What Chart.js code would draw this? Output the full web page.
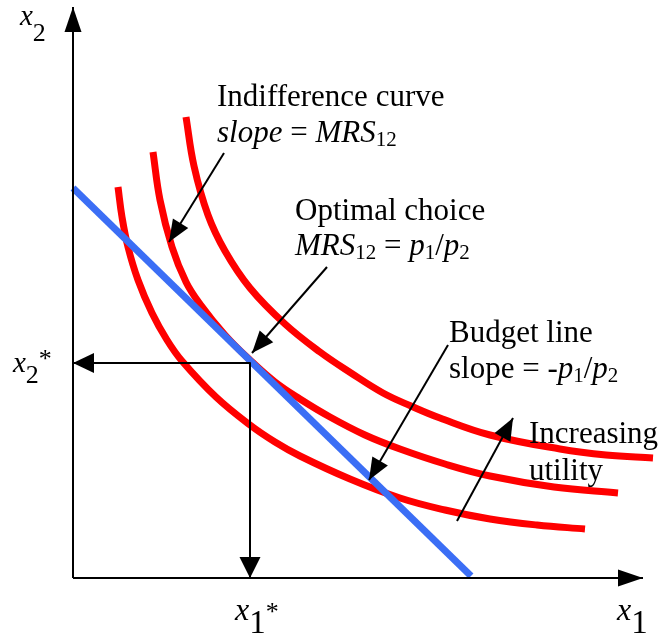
<!DOCTYPE html>
<html><head><meta charset="utf-8">
<script src="https://cdn.jsdelivr.net/npm/chart.js@4"></script>
<style>html,body{margin:0;padding:0;background:#fff;}#wrap{width:661px;height:637px;}</style>
</head><body><div id="wrap"><canvas id="c" width="661" height="637"></canvas></div>
<script>
// ---- data (economic units, origin at the axes' corner) ----
const budgetX = [0.00, 7.96];
const budgetY = [7.80, 0.04];

const lowCurveX = [0.90, 0.98, 1.10, 1.30, 1.58, 1.88, 2.18, 2.86, 3.54, 4.04, 4.54, 5.54, 6.54, 7.44, 8.34, 9.28, 10.24];
const lowCurveY = [7.82, 7.22, 6.62, 5.96, 5.30, 4.76, 4.34, 3.62, 3.06, 2.72, 2.44, 1.98, 1.60, 1.36, 1.18, 1.06, 0.98];

const midCurveX = [1.60, 1.74, 1.98, 2.26, 2.54, 3.04, 3.54, 4.04, 4.54, 5.14, 5.84, 6.54, 7.44, 8.34, 9.62, 10.90];
const midCurveY = [8.52, 7.56, 6.62, 5.92, 5.48, 4.86, 4.36, 3.92, 3.58, 3.22, 2.86, 2.58, 2.28, 2.04, 1.82, 1.70];

const highCurveX = [2.26, 2.42, 2.70, 3.04, 3.54, 4.24, 4.94, 5.56, 6.20, 6.76, 7.34, 8.34, 9.74, 10.66, 11.60];
const highCurveY = [9.22, 8.24, 7.26, 6.54, 5.80, 5.08, 4.52, 4.10, 3.70, 3.44, 3.20, 2.86, 2.58, 2.46, 2.40];

const optimumX1 = 3.54;   // x1*
const optimumX2 = 4.30;   // x2*

const axisX1Max = 11.40;
const axisX2Max = 11.42;

// annotation arrows: [fromX, fromY, toX, toY]
const arrowIndiff   = [3.02, 8.50, 1.92, 6.72];
const arrowOptimal  = [5.08, 6.22, 3.58, 4.50];
const arrowBudget   = [7.50, 4.66, 5.92, 1.96];
const arrowUtility  = [7.68, 1.14, 8.80, 3.20];

// ---- helpers ----
const pts = (xs, ys) => xs.map((x, i) => ({x, y: ys[i]}));
const seg = a => [{x: a[0], y: a[1]}, {x: a[2], y: a[3]}];

const RED = '#ff0000', BLUE = '#3b6ef5', BLACK = '#000000';

const curveStyle = {borderColor: RED, borderWidth: 7, pointRadius: 0, tension: 0.4, order: 2, fill: false};
const arrowStyle = (len, half) => ({borderColor: BLACK, backgroundColor: BLACK, borderWidth: 2, pointRadius: 0, order: 0, fill: false, arrowHead: {len, half}});

const datasets = [
  Object.assign({label: 'U1', data: pts(lowCurveX, lowCurveY)}, curveStyle),
  Object.assign({label: 'U2', data: pts(midCurveX, midCurveY)}, curveStyle),
  Object.assign({label: 'U3', data: pts(highCurveX, highCurveY)}, curveStyle),
  {label: 'Budget', data: pts(budgetX, budgetY), borderColor: BLUE, borderWidth: 7, pointRadius: 0, order: 1, fill: false},
  Object.assign({label: 'axisY', data: [{x: 0, y: 0}, {x: 0, y: axisX2Max}]}, arrowStyle(25, 8.5)),
  Object.assign({label: 'axisX', data: [{x: 0, y: 0}, {x: axisX1Max, y: 0}]}, arrowStyle(25, 8.5)),
  Object.assign({label: 'toX2', data: [{x: optimumX1, y: optimumX2}, {x: 0, y: optimumX2}]}, arrowStyle(21, 10)),
  Object.assign({label: 'toX1', data: [{x: optimumX1, y: optimumX2}, {x: optimumX1, y: 0}]}, arrowStyle(21, 10.5)),
  Object.assign({label: 'a1', data: seg(arrowIndiff)}, arrowStyle(22, 9)),
  Object.assign({label: 'a2', data: seg(arrowOptimal)}, arrowStyle(22, 9)),
  Object.assign({label: 'a3', data: seg(arrowBudget)}, arrowStyle(22, 9)),
  Object.assign({label: 'a4', data: seg(arrowUtility)}, arrowStyle(22, 9)),
];

// ---- text annotations (position in data units, segments of rich text) ----
const F = 'Liberation Serif';
const N = 31, S = 21;
const texts = [
  {x: 2.88, y: 9.44, segs: [{t: 'Indifference curve', s: N}]},
  {x: 2.88, y: 8.72, segs: [{t: 'slope', s: N, i: 1}, {t: ' = ', s: N}, {t: 'MRS', s: N, i: 1}, {t: '12', s: S, dy: 4}]},
  {x: 4.44, y: 7.16, segs: [{t: 'Optimal choice', s: N}]},
  {x: 4.44, y: 6.46, segs: [{t: 'MRS', s: N, i: 1}, {t: '12', s: S, dy: 4}, {t: ' = ', s: N}, {t: 'p', s: N, i: 1}, {t: '1', s: S, dy: 4}, {t: '/', s: N}, {t: 'p', s: N, i: 1}, {t: '2', s: S, dy: 4}]},
  {x: 7.52, y: 4.72, segs: [{t: 'Budget line', s: N}]},
  {x: 7.52, y: 4.00, segs: [{t: 'slope = -', s: N}, {t: 'p', s: N, i: 1}, {t: '1', s: S, dy: 4}, {t: '/', s: N}, {t: 'p', s: N, i: 1}, {t: '2', s: S, dy: 4}]},
  {x: 9.12, y: 2.70, segs: [{t: 'Increasing', s: N}]},
  {x: 9.12, y: 1.96, segs: [{t: 'utility', s: N}]},
  {x: -1.06, y: 11.06, segs: [{t: 'x', s: 29, i: 1}, {t: '2', s: 26, dy: 16}]},
  {x: -1.20, y: 4.12, segs: [{t: 'x', s: 29, i: 1}, {t: '2', s: 26, dy: 11}, {t: '*', s: 26, dy: -5}]},
  {x: 3.24, y: -0.84, segs: [{t: 'x', s: 32, i: 1}, {t: '1', s: 33, dy: 13}, {t: '*', s: 26, dy: 0}]},
  {x: 10.88, y: -0.84, segs: [{t: 'x', s: 32, i: 1}, {t: '1', s: 33, dy: 13}]},
];

const arrowHeads = {
  id: 'arrowHeads',
  afterDatasetsDraw(chart) {
    const ctx = chart.ctx;
    chart.data.datasets.forEach((ds, i) => {
      if (!ds.arrowHead) return;
      const m = chart.getDatasetMeta(i).data;
      const a = m[m.length - 2], b = m[m.length - 1];
      const ang = Math.atan2(b.y - a.y, b.x - a.x);
      const {len, half} = ds.arrowHead;
      const bx = b.x - len * Math.cos(ang), by = b.y - len * Math.sin(ang);
      const nx = -Math.sin(ang) * half, ny = Math.cos(ang) * half;
      ctx.save();
      ctx.fillStyle = ds.borderColor;
      ctx.beginPath();
      ctx.moveTo(b.x, b.y);
      ctx.lineTo(bx + nx, by + ny);
      ctx.lineTo(bx - nx, by - ny);
      ctx.closePath();
      ctx.fill();
      ctx.restore();
    });
  }
};

const textPlugin = {
  id: 'textPlugin',
  afterDraw(chart) {
    const ctx = chart.ctx, sx = chart.scales.x, sy = chart.scales.y;
    ctx.save();
    ctx.fillStyle = '#000';
    ctx.textBaseline = 'alphabetic';
    ctx.textAlign = 'left';
    texts.forEach(t => {
      let px = sx.getPixelForValue(t.x);
      const py = sy.getPixelForValue(t.y);
      t.segs.forEach(g => {
        ctx.font = (g.i ? 'italic ' : '') + g.s + 'px "' + F + '"';
        ctx.fillText(g.t, px, py + (g.dy || 0));
        px += ctx.measureText(g.t).width;
      });
    });
    ctx.restore();
  }
};

new Chart(document.getElementById('c'), {
  type: 'line',
  data: {datasets},
  options: {
    responsive: false,
    animation: false,
    events: [],
    clip: false,
    layout: {padding: 0},
    plugins: {legend: {display: false}, tooltip: {enabled: false}},
    elements: {line: {borderCapStyle: 'butt', borderJoinStyle: 'round'}},
    scales: {
      x: {type: 'linear', min: -1.46, max: 11.76, display: false},
      y: {type: 'linear', min: -1.18, max: 11.56, display: false}
    }
  },
  plugins: [arrowHeads, textPlugin]
});
</script>
</body></html>
